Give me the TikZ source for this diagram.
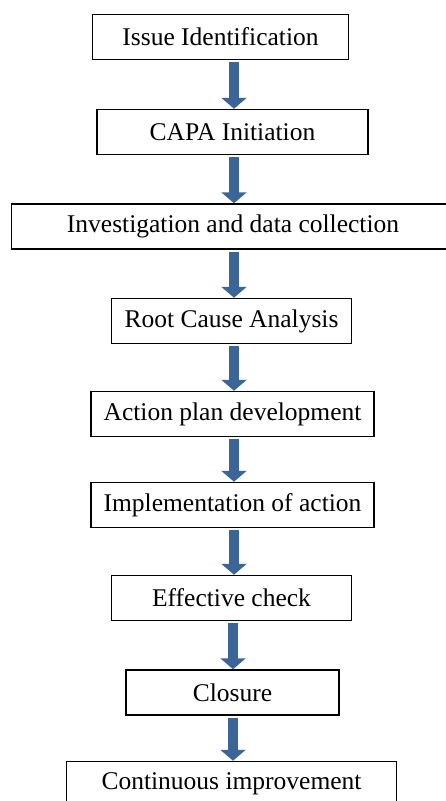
\documentclass[tikz,border=0pt]{standalone}
\usepackage{fontspec}
\setmainfont{Liberation Serif}
\usetikzlibrary{arrows.meta}

\definecolor{capablue}{HTML}{3C6597}

\begin{document}
\begin{tikzpicture}[x=1pt,y=-1pt,
  stage/.style={draw, line width=1.5pt, inner sep=0pt, minimum height=45pt,
    font=\fontsize{25.5}{30}\selectfont},
  flow/.style={capablue, line width=10pt, shorten <=2pt,
    -{Triangle[width=25pt,length=11pt]}}]
  \useasboundingbox (0,0) rectangle (446,801);
  \clip (0,0) rectangle (446,801);
  \fill[white] (0,0) rectangle (446,801);
  % the steps
  \node[stage, minimum width=256pt] (issue) at (220.5,37) {Issue Identification};
  \node[stage, minimum width=271pt] (init) at (232.5,132) {CAPA Initiation};
  \node[stage, minimum width=443pt] (invest) at (233,226.5) {Investigation and data collection};
  \node[stage, minimum width=240pt] (root) at (231.5,321) {Root Cause Analysis};
  \node[stage, minimum width=283pt] (plan) at (232.5,414) {Action plan development};
  \node[stage, minimum width=283pt] (impl) at (232.5,505) {Implementation of action};
  \node[stage, minimum width=240pt] (check) at (231.5,598) {Effective check};
  \node[stage, minimum width=213pt] (close) at (232.5,692.5) {Closure};
  \node[stage, minimum width=330pt] (improve) at (231.5,784) {Continuous improvement};
  \coordinate (axis) at (234,0);
  \coordinate (axisb) at (233,0);
  % block arrows between them
  \draw[flow] (issue.south -| axis) -- (init.north -| axis);
  \draw[flow] (init.south -| axis) -- (invest.north -| axis);
  \draw[flow] (invest.south -| axis) -- (root.north -| axis);
  \draw[flow] (root.south -| axis) -- (plan.north -| axis);
  \draw[flow] (plan.south -| axis) -- (impl.north -| axis);
  \draw[flow] (impl.south -| axis) -- (check.north -| axis);
  \draw[flow] (check.south -| axisb) -- (close.north -| axisb);
  \draw[flow] (close.south -| axisb) -- (improve.north -| axisb);
\end{tikzpicture}
\end{document}
